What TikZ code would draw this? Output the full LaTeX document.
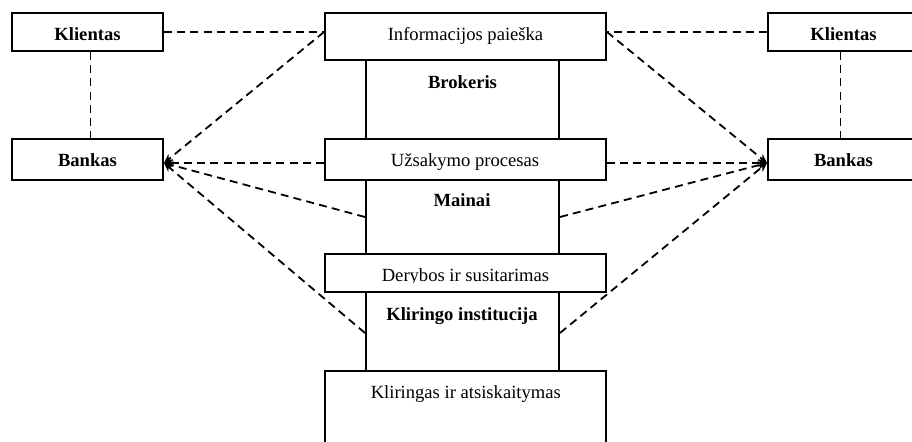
\documentclass[tikz,border=0pt]{standalone}
\usepackage{fontspec}
\setmainfont{Liberation Serif}
\usetikzlibrary{arrows.meta}
\begin{document}
\begin{tikzpicture}[x=0.5pt,y=-0.5pt,
  box/.style={draw,line width=1pt,fill=white,inner sep=0pt,minimum width=75.5pt,minimum height=19pt},
  wide/.style={draw,line width=1pt,fill=white,inner sep=0pt,minimum width=140.5pt},
  col/.style={draw,line width=1pt,inner sep=0pt,minimum width=96.5pt},
  lbl/.style={anchor=base,inner sep=0pt,font=\fontsize{9.3pt}{11pt}\selectfont},
  blbl/.style={anchor=base,inner sep=0pt,font=\fontsize{9.3pt}{11pt}\selectfont\bfseries},
  link/.style={dash pattern=on 4pt off 2.6pt,line width=0.9pt},
  arr/.style={link,-{Stealth[length=4.5pt,width=4pt]}}]
\useasboundingbox (0,0) rectangle (912,442);
\clip (0,0) rectangle (912,442);
% central column
\node[col,minimum height=39.5pt] (bcol) at (462.5,99.5) {};
\node[col,minimum height=37pt] (mcol) at (462.5,217) {};
\node[col,minimum height=39.5pt] (kcol) at (462.5,331.5) {};
\node[wide,minimum height=23.5pt] (info) at (465.5,36.5) {};
\node[wide,minimum height=20.5pt] (uzs) at (465.5,159.5) {};
\node[wide,minimum height=19pt] (der) at (465.5,273) {};
\node[wide,minimum height=49.5pt] (klir) at (465.5,420.5) {};
% side boxes
\node[box] (kl) at (87.5,32) {};
\node[box,minimum height=20.5pt] (bl) at (87.5,159.5) {};
\node[box] (kr) at (843.5,32) {};
\node[box,minimum height=20.5pt] (br) at (843.5,159.5) {};
% texts
\node[blbl] (tkl) at (87.5,41) {Klientas};
\node[blbl] (tbl) at (87.5,166.7) {Bankas};
\node[blbl] (tkr) at (843.5,41) {Klientas};
\node[blbl] (tbr) at (843.5,166.7) {Bankas};
\node[lbl] (tinfo) at (465.5,41) {Informacijos paieška};
\node[blbl] (tbro) at (462.5,88.3) {Brokeris};
\node[lbl] (tuzs) at (465,166.7) {Užsakymo procesas};
\node[blbl] (tmai) at (462,207) {Mainai};
\begin{scope}
\clip (325,254) rectangle (606,282.5);
\node[lbl] (tder) at (465.5,282) {Derybos ir susitarimas};
\end{scope}
\node[blbl] (tkli) at (462,320.3) {Kliringo institucija};
\node[lbl] (tklir) at (465.8,398.3) {Kliringas ir atsiskaitymas};
% connectors
\draw[link] (kl.east) -- (kl.east -| info.west);
\draw[link] (kr.west) -- (kr.west -| info.east);
\draw[link] ([xshift=1.5pt]kl.south) -- ([xshift=1.5pt]bl.north);
\draw[link] ([xshift=-1.5pt]kr.south) -- ([xshift=-1.5pt]br.north);
\coordinate (bltip) at ([yshift=-1.75pt]bl.east);
\coordinate (brtip) at ([yshift=-1.75pt]br.west);
\draw[arr] (kl.east -| info.west) -- (bltip);
\draw[arr] (bltip -| uzs.west) -- (bltip);
\draw[arr] (mcol.west) -- (bltip);
\draw[arr] ([yshift=-0.75pt]kcol.west) -- (bltip);
\draw[arr] (kr.west -| info.east) -- (brtip);
\draw[arr] (brtip -| uzs.east) -- (brtip);
\draw[arr] (mcol.east) -- (brtip);
\draw[arr] ([yshift=-0.75pt]kcol.east) -- (brtip);
\end{tikzpicture}
\end{document}
